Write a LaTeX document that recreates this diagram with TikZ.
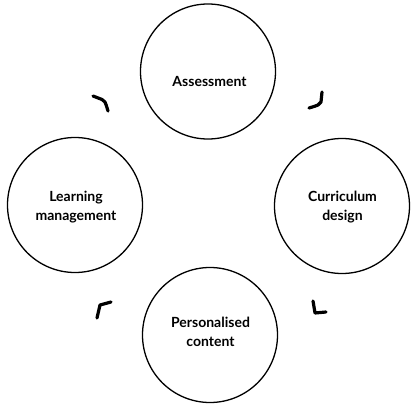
\documentclass[tikz,border=0pt]{standalone}
\usepackage{fontspec}
\setmainfont{Lato}
\begin{document}
\begin{tikzpicture}[x=1pt,y=-1pt,
  circ/.style={draw=black,circle,line width=1.3pt,minimum size=135pt,inner sep=0pt},
  lbl/.style={align=center,font=\bfseries\fontsize{14}{19}\selectfont,inner sep=0pt},
  hook/.style={line width=3.2pt,line cap=round,line join=round}]
\useasboundingbox (0,0) rectangle (414,404);
\node[circ] (A) at (208,71.5) {};
\node[circ] (C) at (342,206) {};
\node[circ] (L) at (75,205) {};
\node[circ] (P) at (210,335) {};
\node[lbl] (At) at (209.5,81) {Assessment};
\node[lbl] (Ct) at (342.5,207.5) {Curriculum\\design};
\node[lbl] (Lt) at (76,207.5) {Learning\\management};
\node[lbl] (Pt) at (210.5,332) {Personalised\\content};
\draw[hook] (93,96) -- (102,99.5) .. controls (105,101) .. (108,111);
\draw[hook] (322,92) -- (321,102) .. controls (319,105) .. (309,108);
\draw[hook] (313,301) -- (315,313) -- (326,312);
\draw[hook] (97,318) -- (100,305) -- (111,302);
\end{tikzpicture}
\end{document}
